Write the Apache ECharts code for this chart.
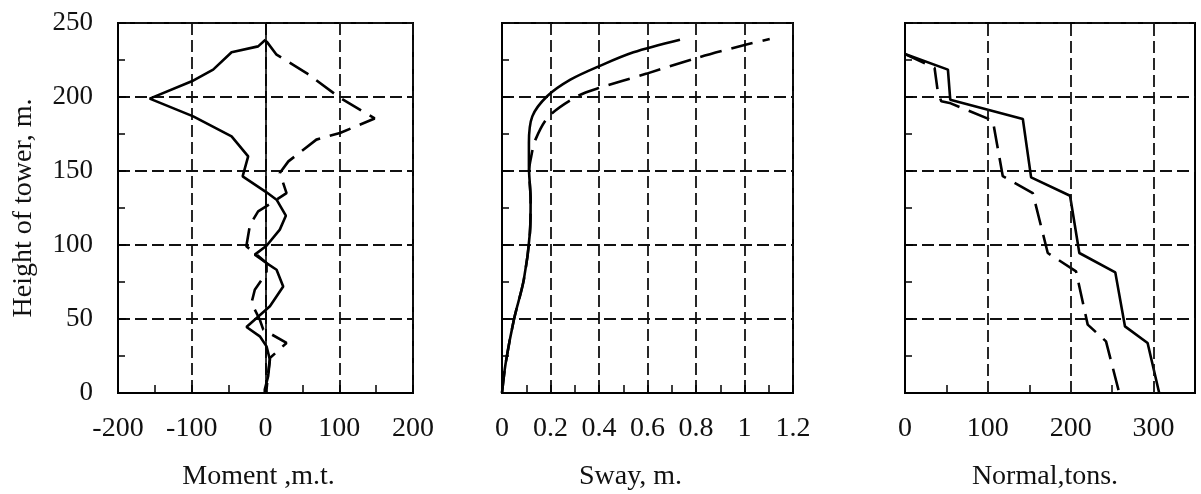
<!DOCTYPE html>
<html>
<head>
<meta charset="utf-8">
<script src="https://cdn.jsdelivr.net/npm/echarts@6/dist/echarts.min.js"></script>
<style>html,body{margin:0;padding:0;background:#fff}#c{width:1201px;height:494px}</style>
</head>
<body>
<div id="c"></div>
<script>
// ---- data: [value, height m] ----
var momentSolid = [[0,238.7],[-10,234.2],[-46,230.2],[-71,218.5],[-100,210.6],[-157,198.9],[-98,186.9],[-46,173.4],[-23.5,159.9],[-31,146.4],[1.4,135.6],[15,130.6],[27.6,119.8],[19.4,110.4],[1.4,99.5],[-14.5,93.5],[1.4,87.8],[15,83.3],[24,72],[6,58.6],[-25.8,44.6],[-7.7,38.3],[1.4,31.5],[6,22.5],[3.6,11.3],[-1,2.3],[-1,0]];
var momentDashed = [[1.4,237.6],[15,228.6],[55.6,216.2],[100,199.8],[148,185.5],[101,175.7],[69,171.2],[31,156.5],[19.4,148.6],[28.5,135.1],[15,130.6],[-10,122.7],[-21,113.7],[-26,99.1],[-14.5,94.6],[1.4,87.8],[1.4,81.1],[-14.5,69.8],[-19,60.8],[-7.7,49.5],[-3,42.8],[28.5,33.8],[6,23.6],[3.6,13.5],[1.4,2.3],[1.4,0]];
var swaySolid = [[0,0],[0.015,20],[0.049,49.5],[0.09,76.6],[0.115,108.1],[0.118,130.6],[0.111,153.2],[0.111,168.9],[0.125,186.9],[0.186,200.5],[0.282,211.7],[0.399,220.7],[0.542,230.2],[0.734,238.7]];
var swayDashed = [[0,0],[0.015,20],[0.049,49.5],[0.09,76.6],[0.115,108.1],[0.118,130.6],[0.112,150],[0.118,157.7],[0.138,171.2],[0.193,186.9],[0.31,200.5],[0.399,206.1],[0.597,215.8],[0.803,226.4],[1.008,235.4],[1.104,239.2]];
var normalSolid = [[0,229],[51.8,218.5],[54.6,198.2],[142.2,185.1],[152.2,145.7],[199.2,133.3],[210.4,94.6],[253.8,81.5],[265.5,45],[292.8,33.8],[306.8,0]];
var normalDashed = [[0,229],[35.7,219.6],[39.8,202.7],[43.8,197.1],[53.8,196],[106,184],[118,146.5],[154.2,135.1],[172.3,94.6],[206.4,82.2],[220.5,46.2],[242.6,34.9],[258.6,0]];
var heightTicks = [0, 250, 50];
var momentTicks = [-200, 200, 100];
var swayTicks = [0, 1.2, 0.2];
var normalTicks = [0, 350, 100];
var normalMinorTicks = [50, 150, 250];
var normalGrid = [100, 200, 300];
var axisTitles = ['Moment ,m.t.', 'Sway, m.', 'Normal,tons.'];
var yTitle = 'Height of tower, m.';

var FONT = "'Liberation Serif','Times New Roman',serif";
var dashGrid = {color:'#111', width:1.8, type:[12,5]};
var grids = [
  {left:118, top:23, width:295, height:370},
  {left:502, top:23, width:291, height:370},
  {left:905, top:23, width:290, height:370}
].map(function(g){ g.show = true; g.borderColor = '#000'; g.borderWidth = 2; g.backgroundColor = 'transparent'; g.containLabel = false; g.outerBoundsMode = 'none'; return g; });

function xAxis(i, t, extra) {
  var a = {
    gridIndex:i, type:'value', min:t[0], max:t[1], interval:t[2],
    axisLine:{show:true, onZero:false, lineStyle:{color:'#000', width:2}},
    axisTick:{show:true, inside:true, length:8, lineStyle:{color:'#000', width:1.5}},
    minorTick:{show:true, splitNumber:2, length:8, lineStyle:{color:'#000', width:1.5}},
    axisLabel:{show:true, margin:22, color:'#111', fontSize:28, fontFamily:FONT, showMaxLabel:true, showMinLabel:true},
    splitLine:{show:true, lineStyle:dashGrid},
    name:axisTitles[i], nameLocation:'middle', nameGap:70,
    nameTextStyle:{color:'#111', fontSize:28, fontFamily:FONT}
  };
  if (extra) extra(a);
  return a;
}
function yAxis(i) {
  return {
    gridIndex:i, type:'value', min:heightTicks[0], max:heightTicks[1], interval:heightTicks[2],
    axisLine:{show:true, onZero:false, lineStyle:{color:'#000', width:2}},
    axisTick:{show:true, inside:true, length:8, lineStyle:{color:'#000', width:1.5}},
    minorTick:{show:true, splitNumber:2, length:7, lineStyle:{color:'#000', width:1.5}},
    axisLabel:{show:i===0, margin:25, color:'#111', fontSize:27, fontFamily:FONT},
    splitLine:{show:true, lineStyle:dashGrid},
    name: i===0 ? yTitle : '', nameLocation:'middle', nameGap:80, nameRotate:90,
    nameTextStyle:{color:'#111', fontSize:28, fontFamily:FONT}
  };
}
function line(data, xi, dashed, smooth, extra) {
  var s = {
    type:'line', xAxisIndex:xi, yAxisIndex:xi, data:data, symbol:'none', silent:true,
    smooth: smooth || false, animation:false,
    lineStyle:{color:'#000', width:2.6, type: dashed ? [22,10] : 'solid'}
  };
  if (extra) extra(s);
  return s;
}

var option = {
  animation:false,
  backgroundColor:'#fff',
  grid: grids,
  xAxis: [
    xAxis(0, momentTicks, function(a){ a.nameTextStyle.padding = [0,14,0,0]; }),
    xAxis(1, swayTicks, function(a){ a.nameTextStyle.padding = [0,34,0,0]; }),
    xAxis(2, normalTicks, function(a){
      a.axisLabel.showMaxLabel = false;
      a.minorTick.show = false;
      a.axisTick.customValues = normalMinorTicks;
      a.splitLine.show = false;
      a.nameTextStyle.padding = [0,10,0,0];
    })
  ],
  yAxis: [yAxis(0), yAxis(1), yAxis(2)],
  series: [
    line(momentSolid, 0, false, false, function(s){
      s.markLine = {silent:true, symbol:'none', animation:false, label:{show:false},
        lineStyle:{color:'#000', type:'solid', width:1.6}, data:[{xAxis:0}]};
    }),
    line(momentDashed, 0, true),
    line(swaySolid, 1, false, 0.3),
    line(swayDashed, 1, true, 0.3),
    line(normalSolid, 2, false, false, function(s){
      s.markLine = {silent:true, symbol:'none', animation:false, label:{show:false},
        lineStyle:dashGrid, data: normalGrid.map(function(v){ return {xAxis:v}; })};
    }),
    line(normalDashed, 2, true)
  ]
};
var chart = echarts.init(document.getElementById('c'), null, {renderer:'canvas'});
chart.setOption(option);
</script>
</body>
</html>
